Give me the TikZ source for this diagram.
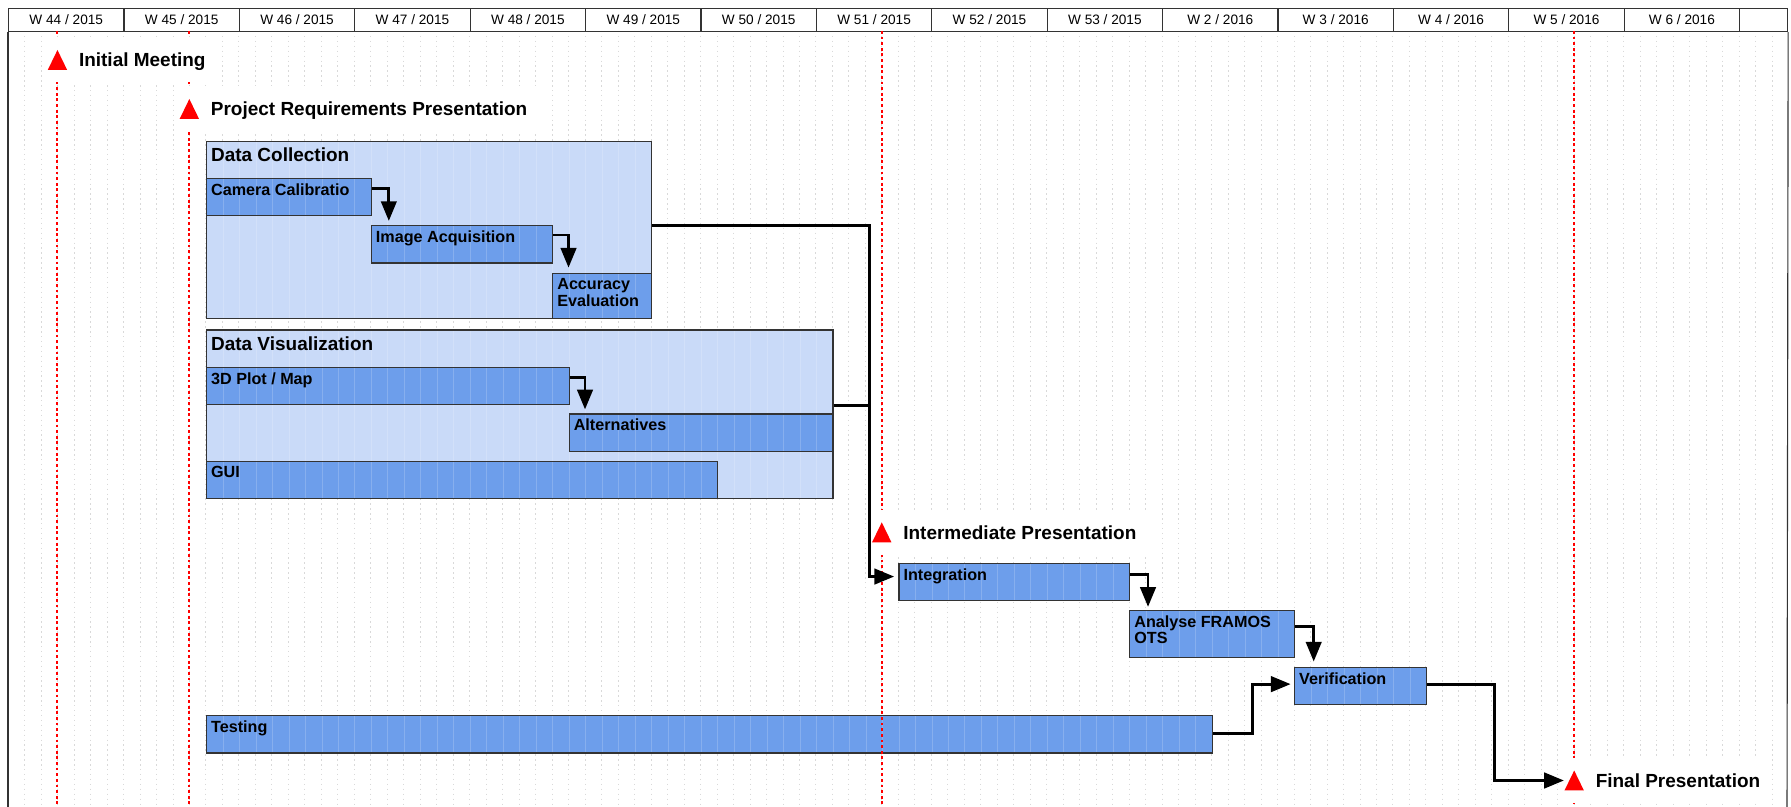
\documentclass[tikz,border=0pt]{standalone}
\usepackage{fontspec}
\setmainfont{Liberation Sans}
\usetikzlibrary{arrows.meta,calc,positioning}

\definecolor{taskblue}{HTML}{6D9EEB}
\definecolor{groupblue}{HTML}{C9DAF8}
\definecolor{edgegray}{HTML}{333333}
\definecolor{gridgray}{HTML}{D9D9D9}
\definecolor{mred}{HTML}{FF0000}

% one day on the time axis, one pixel of the page
\newcommand{\dayw}{0.41215cm}
\newcommand{\pxl}{0.025cm}

\tikzset{
  week/.style={draw=edgegray, line width=0.8pt, anchor=north west, inner sep=0pt,
    minimum width=#1*\dayw, minimum height=23*\pxl,
    font=\fontsize{9.7}{11}\selectfont},
  week/.default=7,
  daygrid/.style={gridgray, line width=0.5pt, dash pattern=on 1pt off 2.5pt},
  deadline/.style={mred, line width=1.4pt, dash pattern=on 2pt off 2pt},
  stripes/.style={path picture={
      \foreach \d in {1,...,61}
        \draw[white, opacity=0.18, line width=0.5pt]
          ($(path picture bounding box.north west)+(\d,0)$) --
          ($(path picture bounding box.south west)+(\d,0)$);}},
  group/.style={draw=edgegray, line width=0.9pt, fill=groupblue, anchor=north west,
    inner sep=0pt, minimum width=#1*\dayw, stripes},
  task/.style={draw=edgegray, line width=0.9pt, fill=taskblue, anchor=north west,
    inner sep=0pt, minimum width=#1*\dayw, minimum height=37.5*\pxl, stripes},
  grouptext/.style={anchor=north west, inner sep=0pt, xshift=5*\pxl, yshift=-6.6*\pxl,
    font=\bfseries\fontsize{13.5}{16}\selectfont},
  tasktext/.style={anchor=north west, inner sep=0pt, xshift=5*\pxl, yshift=-5.6*\pxl,
    align=left, font=\bfseries\fontsize{11.5}{10.3}\selectfont},
  flag/.style={rectangle, fill=white, inner sep=0pt, minimum width=20*\pxl,
    minimum height=45*\pxl,
    path picture={\fill[mred]
      ($(path picture bounding box.center)+(-6.9pt,-7.1pt)$) --
      ($(path picture bounding box.center)+(6.9pt,-7.1pt)$) --
      ($(path picture bounding box.center)+(0pt,7.1pt)$) -- cycle;}},
  flagtext/.style={fill=white, inner xsep=11*\pxl, inner ysep=0pt,
    minimum height=45*\pxl, text depth=0pt,
    font=\bfseries\fontsize{13.5}{16}\selectfont},
  link/.style={line width=2pt},
  flow/.style={link, -{Triangle[length=14pt,width=11pt]}}
}

\begin{document}
\begin{tikzpicture}[x=0.41215cm, y=-0.025cm]
\path[use as bounding box, fill=white] (-0.48526,0) rectangle (108.152,807);

% day grid
\foreach \d in {1,...,107}
  \draw[daygrid] (\d,31) -- (\d,807);

% week header
\foreach \wk [count=\i from 0] in {W 44 / 2015, W 45 / 2015, W 46 / 2015,
    W 47 / 2015, W 48 / 2015, W 49 / 2015, W 50 / 2015, W 51 / 2015,
    W 52 / 2015, W 53 / 2015, W 2 / 2016, W 3 / 2016, W 4 / 2016,
    W 5 / 2016, W 6 / 2016}
  \node[week] (wk\i) at (7*\i,8) {\wk};
\node[week=2.91] (wkend) at (105,8) {};
\draw[edgegray, line width=0.8pt] (wk0.south west) -- (0,807);
\draw[edgegray, line width=0.8pt] (wkend.south east) -- (107.91,807);

% tasks
\node[group=27, minimum height=177.3*\pxl,
  label={[grouptext]north west:Data Collection}] (collect) at (12,140.7) {};
\node[task=10, label={[tasktext]north west:Camera Calibratio}] (calib) at (12,177.7) {};
\node[task=11, label={[tasktext]north west:Image Acquisition}] (acq) at (22,225) {};
\node[task=6, minimum height=45.3*\pxl,
  label={[tasktext]north west:{Accuracy\\Evaluation}}] (acc) at (33,272.7) {};

\node[group=38, minimum height=168.8*\pxl,
  label={[grouptext]north west:Data Visualization}] (visual) at (12,329.5) {};
\node[task=22, label={[tasktext]north west:3D Plot / Map}] (plot) at (12,366.6) {};
\node[task=16, label={[tasktext]north west:Alternatives}] (alt) at (34,413.5) {};
\node[task=31, label={[tasktext]north west:GUI}] (gui) at (12,460.7) {};

\node[task=14, label={[tasktext]north west:Integration}] (integ) at (54,562.7) {};
\node[task=10, minimum height=46.7*\pxl,
  label={[tasktext]north west:{Analyse FRAMOS\\OTS}}] (framos) at (68,610) {};
\node[task=8, label={[tasktext]north west:Verification}] (verif) at (78,666.7) {};
\node[task=61, label={[tasktext]north west:Testing}] (testing) at (12,715) {};

% milestones
\foreach \d in {3,11,53,95}
  \draw[deadline] (\d,31) -- (\d,807);

\node[flag] (kick) at (3,60) {};
\node[flagtext] (kicktext) [right=0pt of kick] {Initial Meeting};
\node[flag] (req) at (11,109) {};
\node[flagtext] (reqtext) [right=0pt of req] {Project Requirements Presentation};
\node[flag] (mid) at (53,532.5) {};
\node[flagtext] (midtext) [right=0pt of mid] {Intermediate Presentation};
\node[flag] (final) at (95,780.7) {};
\node[flagtext] (finaltext) [right=0pt of final] {Final Presentation};

% dependencies
\draw[flow] ($(calib.north east)+(0,11)$) -| ($(acq.north west)+(1.1,-4)$);
\draw[flow] ($(acq.north east)+(0,10)$) -| ($(acc.north west)+(1,-5)$);
\draw[flow] ($(plot.north east)+(0,11)$) -| ($(alt.north west)+(1,-4)$);
\draw[link] ($(visual.north east)+(0,76)$) -| ($(integ.north west)+(-1.75,14)$);
\draw[flow] ($(collect.north east)+(0,85)$) -| ($(integ.north west)+(-1.75,14)$)
  -- ($(integ.north west)+(-0.25,14)$);
\draw[flow] ($(integ.north east)+(0,12)$) -| ($(framos.north west)+(1.15,-3)$);
\draw[flow] ($(framos.north east)+(0,17)$) -| ($(verif.north west)+(1.2,-5)$);
\draw[flow] ($(testing.north east)+(0,19)$) -- ($(testing.north east)+(2.4,19)$)
  |- ($(verif.north west)+(-0.2,17.6)$);
\draw[flow] ($(verif.north east)+(0,17.6)$) -- ($(verif.north east)+(4.1,17.6)$)
  |- (final.west);
\end{tikzpicture}
\end{document}
